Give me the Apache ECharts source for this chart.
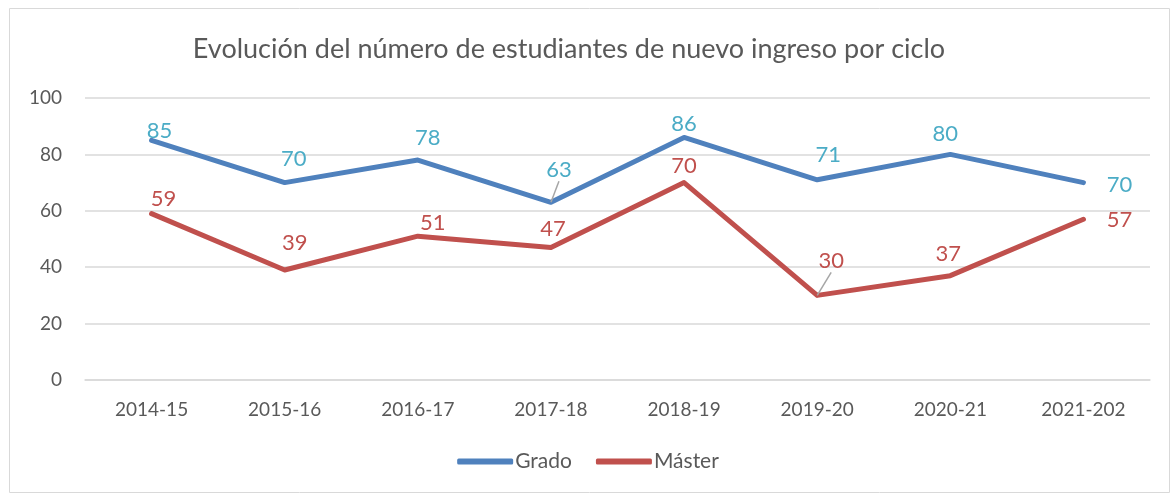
<!DOCTYPE html>
<html><head><meta charset="utf-8">
<script src="https://cdn.jsdelivr.net/npm/echarts@6/dist/echarts.min.js"></script>
<style>html,body{margin:0;padding:0;background:#fff}#c{width:1176px;height:497px}</style>
</head><body><div id="c"></div>
<script>
const titleText = 'Evolución del número de estudiantes de nuevo ingreso por ciclo';
const categories = ['2014-15','2015-16','2016-17','2017-18','2018-19','2019-20','2020-21','2021-202'];
const grado = [85, 70, 78, 63, 86, 71, 80, 70];
const master = [59, 39, 51, 47, 70, 30, 37, 57];
const yTicks = {min: 0, max: 100, interval: 20};

// label offsets (layout, not data)
const gradoOff = [[8,-9],[9,-24],[10,-22],[8,-32],[0,-14],[11,-25],[-5,-20],[36,2]];
const masterOff = [[12,-15],[10,-27],[15,-13],[2,-19],[0,-17],[14,-34],[-2,-22],[36,1]];
const gradoLeader = [false,false,false,true,false,false,false,false];
const masterLeader = [false,false,false,false,false,true,false,false];

function build(vals, offs, leaders){
  return vals.map((v,i)=>({value:v, label:{offset:offs[i]},
    labelLine: leaders[i] ? {show:true} : {show:false}}));
}
const FONT = 'Lato';
const chart = echarts.init(document.getElementById('c'), null, {renderer:'canvas'});
chart.setOption({
  animation:false,
  textStyle:{fontFamily:FONT},
  graphic:[{type:'rect', shape:{x:9.5,y:8.5,width:1160,height:484}, style:{fill:'none', stroke:'#d9d9d9', lineWidth:1}}],
  title:{text:titleText, left:564, top:31, textAlign:'center',
    textStyle:{fontFamily:FONT, fontSize:27, fontWeight:'normal', color:'#595959'}},
  grid:{left:85, right:26, top:98, bottom:117},
  legend:{bottom:20, left:'center', itemWidth:56, itemHeight:6, itemGap:24, icon:'roundRect',
    textStyle:{fontFamily:FONT, fontSize:21, color:'#595959', padding:[0,0,0,-3]},
    data:['Grado','Máster']},
  xAxis:{type:'category', data:categories, boundaryGap:true,
    axisLine:{show:true, lineStyle:{color:'#d9d9d9', width:1.5}}, axisTick:{show:false},
    axisLabel:{fontFamily:FONT, fontSize:19, color:'#595959', margin:20}},
  yAxis:{type:'value', min:yTicks.min, max:yTicks.max, interval:yTicks.interval,
    axisLine:{show:false}, axisTick:{show:false},
    splitLine:{lineStyle:{color:'#d9d9d9', width:1.5}},
    axisLabel:{fontFamily:FONT, fontSize:19, color:'#595959', margin:23}},
  series:[
    {name:'Grado', type:'line', data:build(grado, gradoOff, gradoLeader),
     symbol:'circle', symbolSize:0.1, showSymbol:true,
     lineStyle:{color:'#4f81bd', width:5, cap:'round', join:'round'}, itemStyle:{color:'#4f81bd'},
     label:{show:true, position:'inside', fontFamily:FONT, fontSize:22, color:'#4bacc6'},
     labelLine:{lineStyle:{color:'#a6a6a6', width:1.5}}},
    {name:'Máster', type:'line', data:build(master, masterOff, masterLeader),
     symbol:'circle', symbolSize:0.1, showSymbol:true,
     lineStyle:{color:'#c0504d', width:5, cap:'round', join:'round'}, itemStyle:{color:'#c0504d'},
     label:{show:true, position:'inside', fontFamily:FONT, fontSize:22, color:'#c0504d'},
     labelLine:{lineStyle:{color:'#a6a6a6', width:1.5}}}
  ]
});
</script></body></html>
